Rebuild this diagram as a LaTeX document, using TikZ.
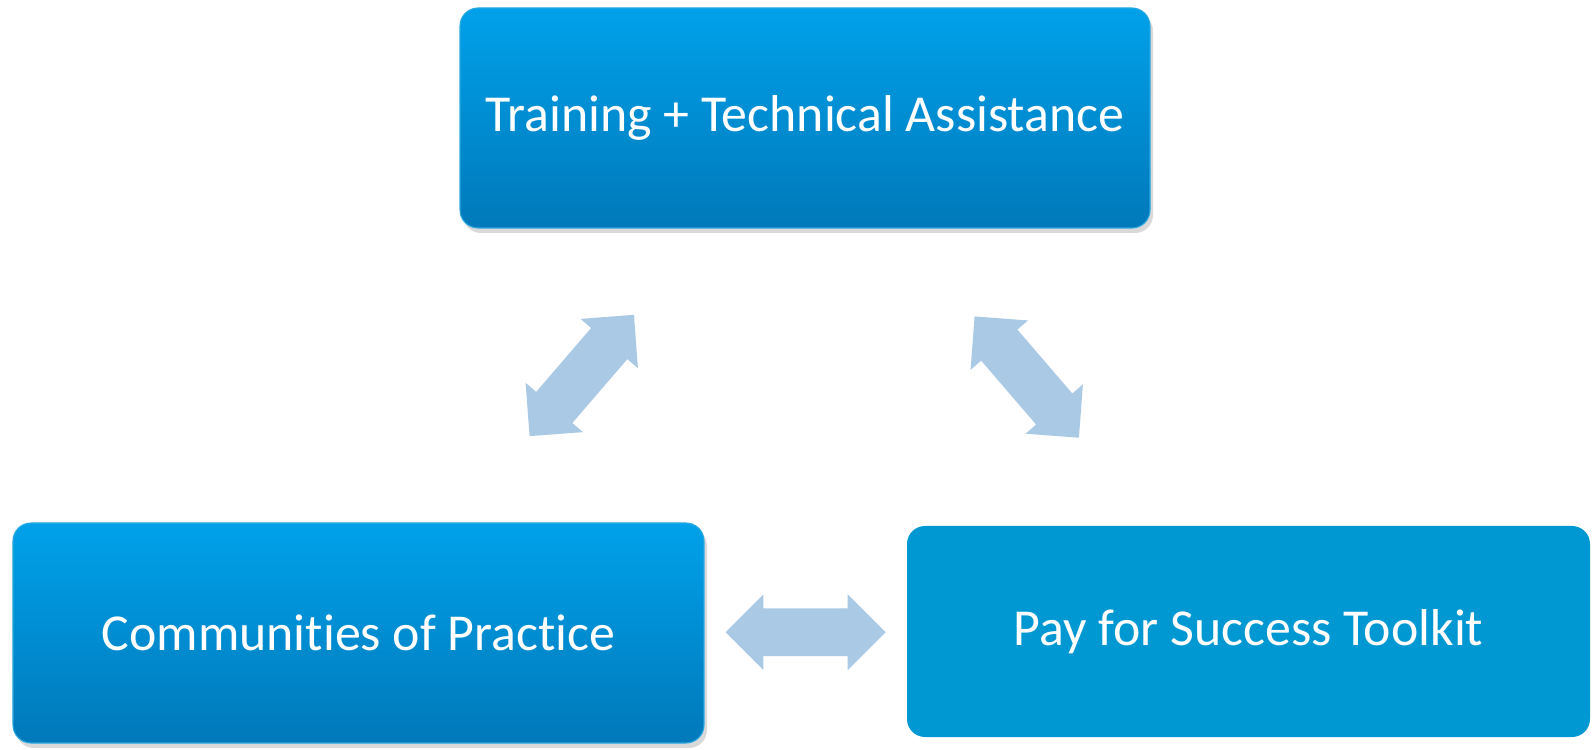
\documentclass[tikz,border=0pt]{standalone}
\usepackage{fontspec}
\setmainfont{Carlito}[Ligatures={NoCommon}]
\usetikzlibrary{calc,shapes.arrows,shadows}
\definecolor{boxtop}{RGB}{0,161,234}
\definecolor{boxbottom}{RGB}{0,121,186}
\definecolor{boxflat}{RGB}{0,152,211}
\definecolor{boxedge}{RGB}{40,168,224}
\definecolor{arrowblue}{RGB}{170,201,229}
\tikzset{
  boxtext/.style = {font=\fontsize{29.5}{35}\selectfont, text=white, rounded corners=0.36cm, inner sep=0pt},
  shadedbox/.style = {boxtext, top color=boxtop, bottom color=boxbottom, draw=boxedge, line width=0.6pt,
    drop shadow={opacity=0.3, shadow xshift=0.06cm, shadow yshift=-0.1cm}},
  flatbox/.style = {boxtext, fill=boxflat},
  dblarrow/.style = {double arrow, fill=arrowblue, inner xsep=0pt, inner ysep=0.47cm, minimum height=3.2cm,
    double arrow head extend=0.28cm, double arrow tip angle=90}
}
\begin{document}
\begin{tikzpicture}
        \useasboundingbox (0,0) rectangle (31.9,14.98);
        % boxes
        \node[shadedbox, minimum width=13.8cm, minimum height=4.4cm](train)at(16.1,12.62){Training + Technical Assistance};
        \node[shadedbox, minimum width=13.82cm, minimum height=4.4cm](comm)at(7.17,2.32){Communities of Practice};
        \node[flatbox, minimum width=13.66cm, minimum height=4.22cm](pay)at(24.97,2.35){Pay for Success Toolkit};
        % arrows
        \node[dblarrow, rotate=49.3](trainComm)at($(train.south)!0.5!(comm.north)$){};
        \node[dblarrow, rotate=-49.3](trainPay)at($(train.south)!0.5!(pay.north)$){};
        \node[dblarrow](commPay)at($(comm.east)!0.5!(pay.west)$){};
\end{tikzpicture}
\end{document}
